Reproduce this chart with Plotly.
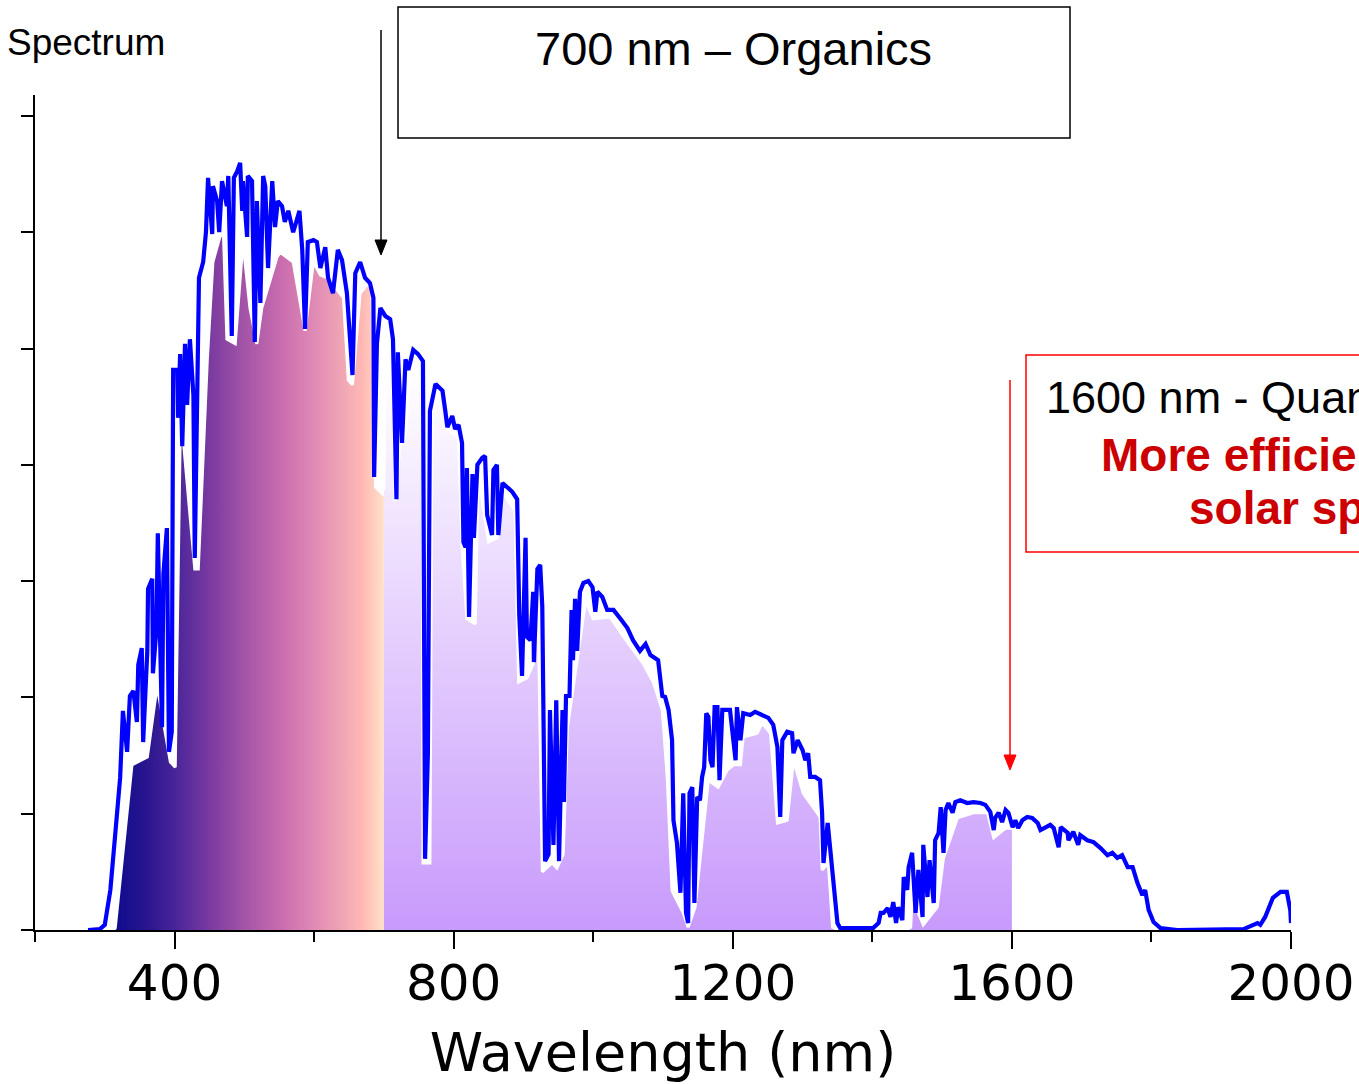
import plotly.graph_objects as go

# ---------------- data ----------------
# measured spectrum (blue line): wavelength in nm, irradiance (a.u., 0.25 per y tick)
line_wavelength = [
    276, 293, 300, 308, 315, 322, 326, 332, 336, 341,
    346, 348, 353, 355, 361, 362, 368, 369, 374, 376,
    382, 384, 389, 392, 396, 398, 404, 405, 408, 411,
    415, 418, 422, 427, 429, 432, 435, 441, 445, 448,
    454, 455, 461, 464, 468, 475, 477, 482, 485, 490,
    494, 497, 498, 504, 505, 511, 515, 518, 523, 527,
    530, 534, 540, 544, 548, 554, 558, 563, 570, 579,
    583, 587, 591, 599, 604, 609, 616, 620, 627, 634,
    640, 647, 655, 659, 666, 673, 680, 685, 686, 690,
    695, 702, 709, 713, 718, 720, 726, 731, 735, 742,
    749, 756, 759, 763, 766, 774, 784, 788, 791, 798,
    802, 807, 812, 814, 817, 819, 822, 827, 829, 834,
    841, 845, 848, 855, 857, 862, 864, 870, 877, 884,
    891, 894, 898, 903, 905, 910, 914, 915, 920, 924,
    927, 931, 936, 938, 943, 947, 951, 956, 958, 961,
    966, 969, 971, 974, 977, 981, 986, 993, 999, 1003,
    1006, 1013, 1020, 1029, 1039, 1049, 1057, 1067, 1075, 1082,
    1093, 1099, 1103, 1108, 1113, 1115, 1120, 1125, 1129, 1133,
    1136, 1138, 1142, 1145, 1149, 1153, 1156, 1159, 1162, 1165,
    1168, 1171, 1174, 1178, 1181, 1185, 1196, 1204, 1206, 1211,
    1215, 1225, 1232, 1242, 1251, 1258, 1264, 1268, 1271, 1278,
    1285, 1287, 1293, 1300, 1304, 1308, 1311, 1318, 1325, 1328,
    1330, 1336, 1340, 1344, 1350, 1354, 1401, 1409, 1412, 1416,
    1422, 1426, 1430, 1434, 1437, 1443, 1445, 1450, 1452, 1457,
    1462, 1466, 1472, 1473, 1479, 1482, 1488, 1490, 1495, 1498,
    1502, 1505, 1509, 1515, 1519, 1526, 1536, 1545, 1555, 1562,
    1569, 1574, 1576, 1581, 1586, 1591, 1595, 1601, 1605, 1609,
    1615, 1622, 1629, 1637, 1641, 1648, 1655, 1660, 1667, 1670,
    1680, 1681, 1688, 1695, 1698, 1708, 1717, 1727, 1737, 1744,
    1751, 1758, 1766, 1773, 1780, 1787, 1791, 1796, 1803, 1813,
    1837, 1932, 1945, 1952, 1956, 1963, 1974, 1985, 1994, 1999, 2000,
]
line_irradiance = [
    0.000, 0.002, 0.011, 0.086, 0.206, 0.327, 0.471, 0.383, 0.503, 0.514,
    0.447, 0.570, 0.606, 0.404, 0.602, 0.733, 0.755, 0.552, 0.645, 0.853,
    0.436, 0.765, 0.864, 0.383, 0.426, 1.204, 1.204, 1.101, 1.238, 1.040,
    1.260, 1.129, 1.270, 1.150, 0.800, 1.172, 1.402, 1.436, 1.500, 1.617,
    1.496, 1.599, 1.567, 1.500, 1.610, 1.556, 1.621, 1.277, 1.617, 1.632,
    1.649, 1.546, 1.610, 1.490, 1.621, 1.610, 1.264, 1.567, 1.348, 1.621,
    1.599, 1.423, 1.610, 1.511, 1.567, 1.556, 1.522, 1.546, 1.500, 1.546,
    1.462, 1.292, 1.479, 1.483, 1.479, 1.423, 1.468, 1.402, 1.369, 1.462,
    1.440, 1.369, 1.193, 1.412, 1.436, 1.402, 1.391, 1.359, 0.974, 1.260,
    1.337, 1.320, 1.313, 1.270, 0.926, 1.242, 1.047, 1.227, 1.204, 1.247,
    1.238, 1.223, 0.153, 0.376, 1.116, 1.174, 1.159, 1.116, 1.081, 1.105,
    1.077, 1.086, 1.047, 0.834, 0.823, 0.993, 0.673, 0.980, 0.843, 1.000,
    1.015, 1.019, 0.892, 0.849, 0.989, 1.000, 0.849, 0.961, 0.950, 0.942,
    0.926, 0.677, 0.546, 0.843, 0.630, 0.623, 0.727, 0.576, 0.776, 0.785,
    0.696, 0.148, 0.163, 0.473, 0.183, 0.494, 0.148, 0.473, 0.275, 0.503,
    0.503, 0.688, 0.580, 0.712, 0.600, 0.727, 0.746, 0.750, 0.737, 0.684,
    0.727, 0.716, 0.688, 0.688, 0.669, 0.649, 0.623, 0.600, 0.615, 0.591,
    0.580, 0.503, 0.501, 0.473, 0.408, 0.236, 0.187, 0.080, 0.294, 0.037,
    0.015, 0.294, 0.307, 0.058, 0.286, 0.279, 0.329, 0.350, 0.466, 0.458,
    0.365, 0.350, 0.479, 0.479, 0.322, 0.473, 0.473, 0.365, 0.479, 0.408,
    0.466, 0.462, 0.469, 0.462, 0.456, 0.441, 0.393, 0.243, 0.408, 0.426,
    0.423, 0.380, 0.408, 0.387, 0.365, 0.380, 0.329, 0.329, 0.322, 0.252,
    0.144, 0.230, 0.178, 0.107, 0.015, 0.004, 0.004, 0.015, 0.037, 0.037,
    0.047, 0.028, 0.060, 0.015, 0.049, 0.021, 0.114, 0.086, 0.135, 0.166,
    0.037, 0.129, 0.028, 0.183, 0.071, 0.150, 0.058, 0.193, 0.209, 0.264,
    0.166, 0.258, 0.273, 0.252, 0.275, 0.279, 0.273, 0.275, 0.273, 0.269,
    0.254, 0.215, 0.241, 0.252, 0.232, 0.258, 0.252, 0.221, 0.236, 0.219,
    0.236, 0.243, 0.241, 0.230, 0.215, 0.221, 0.226, 0.219, 0.178, 0.221,
    0.209, 0.193, 0.211, 0.183, 0.204, 0.193, 0.189, 0.176, 0.161, 0.166,
    0.155, 0.161, 0.135, 0.135, 0.101, 0.075, 0.086, 0.043, 0.017, 0.004,
    0.000, 0.002, 0.011, 0.015, 0.011, 0.028, 0.069, 0.082, 0.082, 0.043, 0.015,
]

# absorbed part, organics window (gradient fill, up to 700 nm)
organic_wavelength = [
    312, 315, 339, 361, 375, 394, 401, 408, 412, 429,
    434, 447, 455, 465, 470, 475, 487, 498, 508, 518,
    525, 547, 551, 570, 587, 599, 609, 619, 642, 649,
    655, 666, 676, 683, 688, 700,
]
organic_irradiance = [
    0.000, 0.004, 0.355, 0.372, 0.525, 0.361, 0.350, 1.051, 1.062, 0.776,
    0.776, 1.227, 1.436, 1.490, 1.500, 1.270, 1.260, 1.479, 1.337, 1.260,
    1.337, 1.447, 1.457, 1.436, 1.288, 1.436, 1.408, 1.402, 1.359, 1.182,
    1.172, 1.369, 1.387, 1.380, 0.952, 0.935,
]

# absorbed part, quantum-dot window (700 - 1600 nm)
qd_wavelength = [
    700, 702, 712, 716, 723, 731, 738, 755, 756, 766,
    769, 784, 791, 807, 812, 819, 831, 835, 850, 862,
    870, 888, 893, 905, 914, 921, 927, 941, 948, 957,
    963, 977, 989, 1000, 1024, 1049, 1072, 1086, 1099, 1106,
    1113, 1129, 1136, 1146, 1165, 1179, 1192, 1201, 1211, 1215,
    1235, 1242, 1254, 1264, 1278, 1287, 1301, 1325, 1328, 1337,
    1343, 1347, 1452, 1455, 1457, 1473, 1493, 1502, 1522, 1545,
    1565, 1574, 1591, 1600,
]
qd_irradiance = [
    0.946, 1.262, 1.270, 0.922, 1.038, 1.066, 1.212, 1.223, 0.144, 0.144,
    1.116, 1.154, 1.077, 1.058, 0.823, 0.669, 0.658, 0.980, 0.834, 0.843,
    0.942, 0.901, 0.533, 0.542, 0.572, 0.696, 0.125, 0.144, 0.133, 0.163,
    0.434, 0.580, 0.707, 0.669, 0.673, 0.619, 0.572, 0.533, 0.473, 0.329,
    0.084, 0.037, 0.006, 0.049, 0.322, 0.307, 0.344, 0.355, 0.355, 0.415,
    0.423, 0.445, 0.423, 0.230, 0.236, 0.365, 0.294, 0.243, 0.129, 0.144,
    0.006, 0.003, 0.003, 0.006, 0.069, 0.011, 0.049, 0.155, 0.241, 0.252,
    0.252, 0.198, 0.219, 0.219,
]

x_major_ticks = [400, 800, 1200, 1600, 2000]
x_minor_ticks = [200, 600, 1000, 1400, 1800]
y_ticks = [0, 0.25, 0.5, 0.75, 1.0, 1.25, 1.5, 1.75]

# ---------------- layout geometry ----------------
W, H = 1359, 1084
ML, MR, MT, MB = 35, 68, 95, 154
PW, PH = W - ML - MR, H - MT - MB


def px(xp):
    return (xp - ML) / PW


def py(yp):
    return (H - MB - yp) / PH


ARIAL = "Liberation Sans, Arial, sans-serif"
WIDE = "DejaVu Sans, sans-serif"

fig = go.Figure()

fig.add_trace(go.Scatter(
    x=organic_wavelength, y=organic_irradiance, mode="lines",
    fill="tozeroy",
    fillgradient=dict(
        type="horizontal", start=310, stop=700,
        colorscale=[
            [0.00, "#0C0A8E"], [0.13, "#2A168E"], [0.23, "#48249A"],
            [0.36, "#7A3AA0"], [0.49, "#A455A8"], [0.62, "#C86CAE"],
            [0.72, "#DC84B4"], [0.85, "#F0A6B4"], [0.92, "#FFB8B4"],
            [1.00, "#FFE2C8"],
        ],
    ),
    line=dict(color="white", width=3),
    hoverinfo="skip", showlegend=False,
))

fig.add_trace(go.Scatter(
    x=qd_wavelength, y=qd_irradiance, mode="lines",
    fill="tozeroy",
    fillgradient=dict(
        type="vertical", start=0, stop=1.2,
        colorscale=[[0.0, "#C89AFC"], [1.0, "#FFFFFF"]],
    ),
    line=dict(color="white", width=3),
    hoverinfo="skip", showlegend=False,
))

fig.add_trace(go.Scatter(
    x=line_wavelength, y=line_irradiance, mode="lines",
    line=dict(color="#0000FF", width=4.2),
    showlegend=False,
))

shapes = [
    # 700 nm box
    dict(type="rect", xref="paper", yref="paper",
         x0=px(398), x1=px(1070), y0=py(138), y1=py(7),
         line=dict(color="black", width=1.5)),
    # black arrow
    dict(type="line", xref="paper", yref="paper",
         x0=px(381), x1=px(381), y0=py(30), y1=py(242),
         line=dict(color="black", width=1.5)),
    dict(type="path", xref="paper", yref="paper",
         path=f"M {px(375)} {py(240)} L {px(387)} {py(240)} L {px(381)} {py(255)} Z",
         fillcolor="black", line=dict(color="black", width=1)),
    # red box (extends past the right edge)
    dict(type="rect", xref="paper", yref="paper",
         x0=px(1026), x1=px(1700), y0=py(552), y1=py(355),
         line=dict(color="#FF0000", width=1.5)),
    # red arrow
    dict(type="line", xref="paper", yref="paper",
         x0=px(1010), x1=px(1010), y0=py(380), y1=py(757),
         line=dict(color="#FF0000", width=1.5)),
    dict(type="path", xref="paper", yref="paper",
         path=f"M {px(1004)} {py(755)} L {px(1016)} {py(755)} L {px(1010)} {py(770)} Z",
         fillcolor="#FF0000", line=dict(color="#FF0000", width=1)),
]

annotations = [
    dict(text="Spectrum", xref="paper", yref="paper", x=px(5), y=py(42),
         xanchor="left", yanchor="middle", showarrow=False,
         font=dict(family=ARIAL, size=37, color="black")),
    dict(text="700 nm \u2013 Organics", xref="paper", yref="paper", x=px(733), y=py(48),
         xanchor="center", yanchor="middle", showarrow=False,
         font=dict(family=ARIAL, size=47, color="black")),
    dict(text="1600 nm - Quantum Dots", xref="paper", yref="paper", x=px(1044), y=py(397),
         xanchor="left", yanchor="middle", showarrow=False,
         font=dict(family=ARIAL, size=45, color="black")),
    dict(text="<b>More efficient use of the</b>", xref="paper", yref="paper", x=px(1099), y=py(455),
         xanchor="left", yanchor="middle", showarrow=False,
         font=dict(family=ARIAL, size=46, color="#CC0000")),
    dict(text="<b>solar spectrum</b>", xref="paper", yref="paper", x=px(1187), y=py(508),
         xanchor="left", yanchor="middle", showarrow=False,
         font=dict(family=ARIAL, size=46, color="#CC0000")),
]

fig.update_layout(
    width=W, height=H,
    margin=dict(l=ML, r=MR, t=MT, b=MB, pad=0),
    paper_bgcolor="white", plot_bgcolor="white",
    shapes=shapes, annotations=annotations,
    showlegend=False,
)

fig.update_xaxes(
    range=[200, 2000], showgrid=False, zeroline=False,
    showline=True, linecolor="black", linewidth=2,
    tickmode="array", tickvals=x_major_ticks,
    ticktext=[str(v) for v in x_major_ticks],
    ticks="outside", ticklen=17, tickwidth=2, tickcolor="black",
    minor=dict(tickmode="array", tickvals=x_minor_ticks, ticks="outside",
               ticklen=10, tickwidth=2, tickcolor="black"),
    tickfont=dict(family=WIDE, size=50, color="black"),
    ticklabelstandoff=-9,
    title=dict(text="Wavelength (nm)", font=dict(family=WIDE, size=54, color="black"),
               standoff=25),
    automargin=False,
)

fig.update_yaxes(
    range=[0, 1.795], showgrid=False, zeroline=False,
    showline=True, linecolor="black", linewidth=2,
    tickmode="array", tickvals=y_ticks, showticklabels=False,
    ticks="outside", ticklen=12, tickwidth=2, tickcolor="black",
    automargin=False,
)

fig.write_html("out.html", config={"displayModeBar": False},
               post_script="document.body.style.margin='0px';")
